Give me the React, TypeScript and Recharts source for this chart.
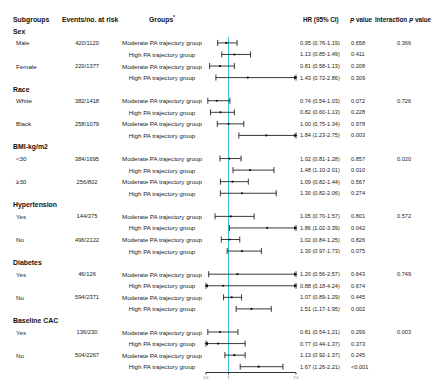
import React from 'react';
import { ScatterChart, Scatter, XAxis, YAxis, ErrorBar, ReferenceLine } from 'recharts';

const sections = ['Sex', 'Race', 'BMI-kg/m2', 'Hypertension', 'Diabetes', 'Baseline CAC'];
const subgroups = ['Male', 'Female', 'White', 'Black', '<30', '\u226530', 'Yes', 'No', 'Yes', 'No', 'Yes', 'No'];
const events = ['420/1120', '220/1377', '382/1418', '258/1079', '384/1695', '256/802', '144/375', '496/2122', '46/126', '594/2371', '136/230', '504/2267'];
const interactionP = ['0.366', '0.726', '0.020', '0.572', '0.749', '0.003'];
const groups = ['Moderate PA trajectory group', 'High PA trajectory group'];
const hr = [0.95, 1.13, 0.81, 1.43, 0.74, 0.82, 1.0, 1.84, 1.02, 1.48, 1.09, 1.3, 1.05, 1.86, 1.02, 1.3, 1.2, 0.88, 1.07, 1.51, 0.81, 0.77, 1.13, 1.67];
const ciLow = [0.76, 0.85, 0.58, 0.72, 0.54, 0.6, 0.75, 1.23, 0.81, 1.1, 0.82, 0.82, 0.7, 1.02, 0.84, 0.97, 0.56, 0.18, 0.89, 1.17, 0.54, 0.44, 0.92, 1.26];
const ciHigh = [1.19, 1.49, 1.13, 2.86, 1.03, 1.13, 1.34, 2.75, 1.28, 2.01, 1.44, 2.06, 1.57, 3.39, 1.25, 1.73, 2.57, 4.24, 1.29, 1.95, 1.21, 1.37, 1.37, 2.21];
const pValues = ['0.658', '0.411', '0.208', '0.309', '0.072', '0.228', '0.978', '0.003', '0.857', '0.010', '0.567', '0.274', '0.801', '0.042', '0.826', '0.075', '0.643', '0.674', '0.445', '0.002', '0.299', '0.373', '0.245', '<0.001'];
const xTicks = [0.5, 1, 2.5];
const xMin = 0.5;
const xMax = 2.5;

type SectionRow = { x: number; y: number; label: string };
type EstRow = {
  x: number; y: number; sub: string; ev: string; grp: string; hrText: string; p: string; ip: string; err: [number, number];
};
type ArrowRow = { x: number; y: number; dir: number };

const sectionRows: SectionRow[] = [];
const estRows: EstRow[] = [];
const arrowRows: ArrowRow[] = [];
{
  let idx = 1;
  sections.forEach((sec, si) => {
    sectionRows.push({ x: 1, y: idx++, label: sec });
    for (let j = 0; j < 2; j++) {
      const sg = si * 2 + j;
      for (let g = 0; g < 2; g++) {
        const k = sg * 2 + g;
        const lo = ciLow[k];
        const hi = ciHigh[k];
        const v = hr[k];
        const y = idx++;
        estRows.push({
          x: v,
          y,
          sub: g === 0 ? subgroups[sg] : '',
          ev: g === 0 ? events[sg] : '',
          grp: groups[g],
          hrText: `${v.toFixed(2)} (${lo.toFixed(2)}-${hi.toFixed(2)})`,
          p: pValues[k],
          ip: j === 0 && g === 0 ? interactionP[si] : '',
          err: [v - Math.max(lo, xMin), Math.min(hi, xMax) - v],
        });
        if (hi > xMax) arrowRows.push({ x: xMax, y, dir: 1 });
        if (lo < xMin) arrowRows.push({ x: xMin, y, dir: -1 });
      }
    }
  });
}
const headerRows = [{ x: 1, y: 0 }];

const FONT = '"Liberation Sans", Arial, Helvetica, sans-serif';
const TXT = '#222';

const HeaderShape = (props: any) => {
  const { cy } = props;
  const common = { fontFamily: FONT, fontSize: 6.3, fontWeight: 700, fill: '#111', dominantBaseline: 'central' as const };
  return (
    <g>
      <text x={13} y={cy} {...common} fontSize={6.9}>Subgroups</text>
      <text x={62} y={cy} {...common} fontSize={6.8}>Events/no. at risk</text>
      <text x={162} y={cy} textAnchor="middle" {...common} fontSize={6.8}>
        Groups<tspan dy={-2.5} fontSize={4.5}>*</tspan>
      </text>
      <text x={303} y={cy} {...common}>HR (95% CI)</text>
      <text x={350} y={cy} {...common}>
        <tspan fontStyle="italic">P</tspan> value
      </text>
      <text x={375} y={cy} {...common}>
        Interaction <tspan fontStyle="italic">P</tspan> value
      </text>
    </g>
  );
};

const SectionShape = (props: any) => {
  const { cy, payload } = props;
  return (
    <text x={13} y={cy} fontFamily={FONT} fontSize={6.9} fontWeight={700} fill="#111" dominantBaseline="central">
      {payload.label}
    </text>
  );
};

const EstShape = (props: any) => {
  const { cx, cy, payload } = props;
  const t = { fontFamily: FONT, fill: TXT, dominantBaseline: 'central' as const };
  return (
    <g>
      <circle cx={cx} cy={cy} r={1.1} fill="#111" />
      {payload.sub ? <text x={16} y={cy} fontSize={6.2} {...t}>{payload.sub}</text> : null}
      {payload.ev ? <text x={87} y={cy} fontSize={5.8} textAnchor="middle" {...t}>{payload.ev}</text> : null}
      <text x={162} y={cy} fontSize={6.2} textAnchor="middle" {...t}>{payload.grp}</text>
      <text x={300} y={cy} fontSize={5.6} {...t}>{payload.hrText}</text>
      <text x={351} y={cy} fontSize={5.6} {...t}>{payload.p}</text>
      {payload.ip ? <text x={397} y={cy} fontSize={5.6} {...t}>{payload.ip}</text> : null}
    </g>
  );
};

const ArrowShape = (props: any) => {
  const { cx, cy, payload } = props;
  const d = payload.dir;
  const tip = cx + d * 1.5;
  const base = cx - d * 2;
  return <path d={`M${tip},${cy} L${base},${cy - 1.8} L${base},${cy + 1.8} Z`} fill="#111" />;
};

export default function App() {
  return (
    <div style={{ position: 'absolute', left: 0, top: 0, width: 440, height: 389, background: '#fff' }}>
      <ScatterChart width={440} height={389} margin={{ top: 14, right: 144, bottom: 4.5, left: 206 }}>
        <XAxis
          type="number"
          dataKey="x"
          domain={[xMin, xMax]}
          ticks={xTicks}
          height={12}
          tickSize={2}
          stroke="#333"
          tick={{ fontSize: 3.5, fill: '#555', fontFamily: FONT }}
          tickFormatter={(v: number) => String(v)}
        />
        <YAxis type="number" dataKey="y" hide domain={[-0.5, 30.5]} reversed />
        <ReferenceLine
          segment={[{ x: 1, y: 1.5 }, { x: 1, y: 30.5 }]}
          stroke="#3ec3d3"
          strokeWidth={1}
          ifOverflow="visible"
        />
        <Scatter data={headerRows} shape={HeaderShape} isAnimationActive={false} />
        <Scatter data={sectionRows} shape={SectionShape} isAnimationActive={false} />
        <Scatter data={estRows} shape={EstShape} isAnimationActive={false}>
          <ErrorBar dataKey="err" direction="x" width={3} stroke="#222" strokeWidth={0.9} isAnimationActive={false} />
        </Scatter>
        <Scatter data={arrowRows} shape={ArrowShape} isAnimationActive={false} />
      </ScatterChart>
    </div>
  );
}
